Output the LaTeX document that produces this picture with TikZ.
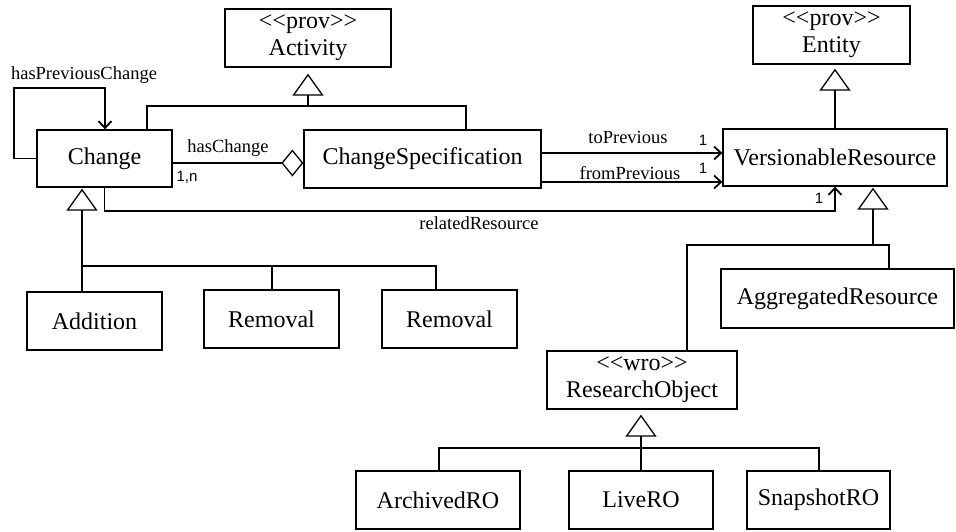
\documentclass[tikz,border=0pt]{standalone}
\usepackage{fontspec}
\setmainfont{Liberation Serif}
\newfontfamily\labsans{Liberation Sans}
\usetikzlibrary{arrows.meta,calc}
\begin{document}
\begin{tikzpicture}[x=1pt,y=-1pt,
 cls/.style={draw,line width=1.3pt,inner sep=0pt,align=center,font=\fontsize{24}{27}\selectfont},
 lab/.style={inner sep=0pt,font=\fontsize{18.5}{20}\selectfont},
 mult/.style={inner sep=0pt,font=\labsans\fontsize{15}{17}\selectfont},
 conn/.style={line width=1.3pt},
 gen/.style={conn,-{Triangle[open,length=22pt,width=31pt]}},
 assoc/.style={conn,-{Straight Barb[length=7pt,width=13pt,line width=1.8pt]}},
 aggr/.style={conn,-{Diamond[open,length=22pt,width=27pt]}},
]
\useasboundingbox (0,0) rectangle (956,531);
% classes
\node[cls,minimum width=166pt,minimum height=58pt] (Activity) at (308,38) {{<}{<}prov{>}{>}\\Activity};
\node[cls,minimum width=157pt,minimum height=58pt] (Entity) at (831.5,35) {{<}{<}prov{>}{>}\\Entity};
\node[cls,minimum width=135pt,minimum height=57pt] (Change) at (104.5,158.5) {Change};
\node[cls,minimum width=237pt,minimum height=58pt] (ChangeSpec) at (422.5,159) {ChangeSpecification};
\node[cls,minimum width=224pt,minimum height=57pt] (VR) at (835,157.5) {VersionableResource};
\node[cls,minimum width=135pt,minimum height=58pt] (Addition) at (94.5,321) {Addition};
\node[cls,minimum width=135pt,minimum height=58pt] (RemovalA) at (271.5,319) {Removal};
\node[cls,minimum width=135pt,minimum height=58pt] (RemovalB) at (449.5,319) {Removal};
\node[cls,minimum width=233pt,minimum height=59pt] (Agg) at (837.5,298.5) {AggregatedResource};
\node[cls,minimum width=190pt,minimum height=58pt] (RO) at (642,380) {{<}{<}wro{>}{>}\\ResearchObject};
\node[cls,minimum width=164pt,minimum height=58pt] (Archived) at (438,500) {ArchivedRO};
\node[cls,minimum width=144pt,minimum height=58pt] (Live) at (641,500) {LiveRO};
\node[cls,minimum width=143pt,minimum height=58pt] (Snapshot) at (818.5,500) {SnapshotRO};

% Activity generalization
\coordinate (a1) at (147,106);
\coordinate (a2) at (466,106);
\draw[conn] (Change.north -| a1) -- (a1) -- (a2) -- (ChangeSpec.north -| a2);
\draw[gen,shorten >=6pt] (Activity.south |- a1) -- (Activity.south);

% Entity generalization
\draw[gen,shorten >=4pt] (VR.north) -- (VR.north |- Entity.south);

% hasPreviousChange
\coordinate (hpL) at (14,88);
\coordinate (hpR) at (105,88);
\draw[assoc] (Change.west) -| (hpL) -- (hpR) -- (Change.north -| hpR);
\node[lab] (lhpc) at (84,75) {hasPreviousChange};

% hasChange
\coordinate (hc) at (0,163);
\draw[aggr] (Change.east |- hc) -- (ChangeSpec.west |- hc);
\node[lab] (lhc) at (228,148) {hasChange};
\node[mult] (mhc) at (187,177) {1,n};

% toPrevious / fromPrevious
\coordinate (tp) at (0,153);
\coordinate (fp) at (0,182);
\draw[assoc] (ChangeSpec.east |- tp) -- (VR.west |- tp);
\draw[assoc] (ChangeSpec.east |- fp) -- (VR.west |- fp);
\node[lab] (ltp) at (628,137) {toPrevious};
\node[lab] (lfp) at (630,173) {fromPrevious};
\node[mult] (mtp) at (703,140) {1};
\node[mult] (mfp) at (703,168) {1};

% relatedResource
\coordinate (rr) at (0,211);
\draw[assoc] (Change.south) |- (VR.south |- rr) -- (VR.south);
\node[lab] (lrr) at (479,223) {relatedResource};
\node[mult] (mrr) at (819,198) {1};

% Change generalization
\coordinate (cb1) at (82,266);
\coordinate (cb2) at (272,266);
\coordinate (cb3) at (436,266);
\draw[conn] (Addition.north -| cb1) -- (cb1) -- (cb3) -- (RemovalB.north -| cb3);
\draw[conn] (cb2) -- (RemovalA.north -| cb2);
\draw[gen,shorten >=1pt] (cb1) -- (Change.south -| cb1);

% VersionableResource generalization
\coordinate (vb) at (873,245);
\coordinate (vL) at (687,245);
\coordinate (vR) at (889,245);
\draw[conn] (RO.north -| vL) -- (vL) -- (vR) -- (Agg.north -| vR);
\draw[gen,shorten >=1pt] (vb) -- (VR.south -| vb);

% ResearchObject generalization
\coordinate (rb) at (641,448);
\coordinate (rL) at (439,448);
\coordinate (rR) at (819,448);
\draw[conn] (Archived.north -| rL) -- (rL) -- (rR) -- (Snapshot.north -| rR);
\draw[conn] (rb) -- (Live.north -| rb);
\draw[gen,shorten >=5pt] (rb) -- (RO.south -| rb);
\end{tikzpicture}
\end{document}
